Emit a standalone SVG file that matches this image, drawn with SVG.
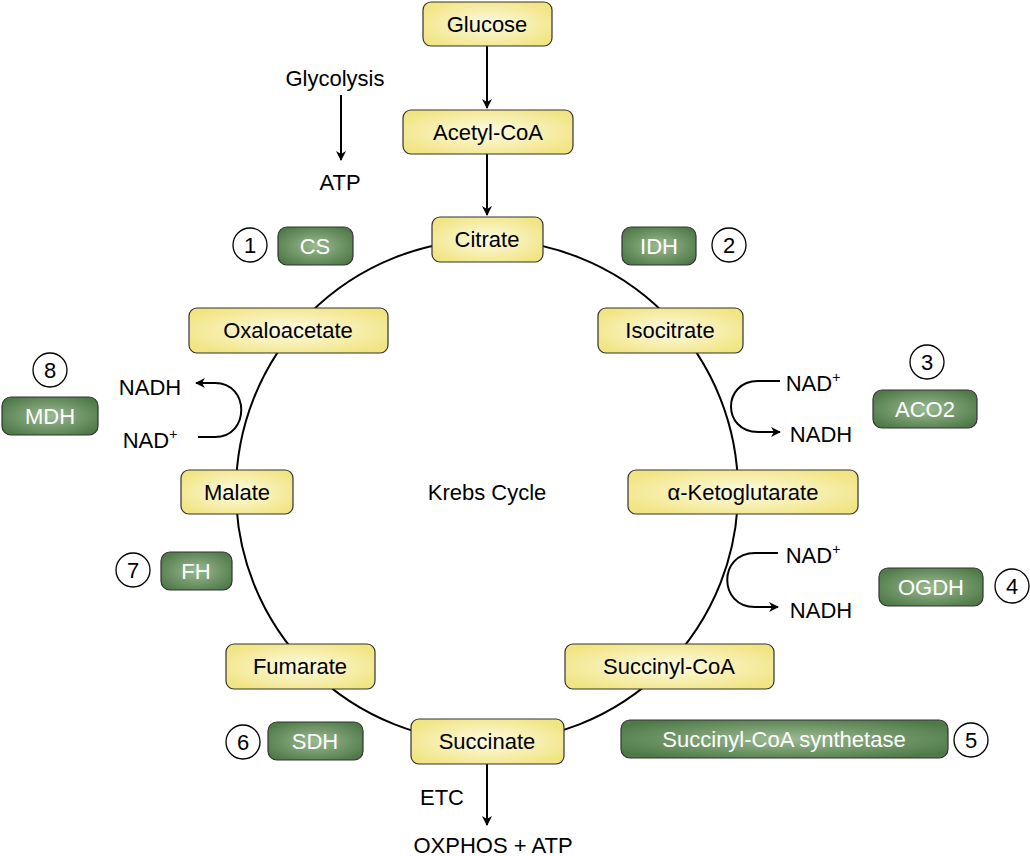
<svg xmlns="http://www.w3.org/2000/svg" width="1030" height="856" viewBox="0 0 1030 856">
<defs>
<radialGradient id="y" cx="0.5" cy="0.5" r="0.6"><stop offset="0" stop-color="#fdfbe4"/><stop offset="1" stop-color="#f1e482"/></radialGradient>
<radialGradient id="g" cx="0.5" cy="0.5" r="0.6"><stop offset="0" stop-color="#9cba92"/><stop offset="1" stop-color="#4f7a48"/></radialGradient>
<marker id="a" viewBox="0 0 10 10" refX="9" refY="5" markerWidth="10" markerHeight="10" markerUnits="userSpaceOnUse" orient="auto"><path d="M0,0 L10,5 L0,10 L3,5 Z" fill="#000"/></marker>
<style>
text{font-family:"Liberation Sans",Arial,sans-serif;font-size:22px;fill:#000;text-anchor:middle}
.y rect{fill:url(#y);stroke:#333;stroke-width:1.2}
.g rect{fill:url(#g);stroke:#333;stroke-width:1.2}
.g text{fill:#fff}
.n circle{fill:#fff;stroke:#000;stroke-width:1.3}
.l{fill:none;stroke:#000;stroke-width:2}
</style>
</defs>
<rect width="1030" height="856" fill="#fff"/>
<g id="connectors">
<circle cx="487" cy="491" r="251" class="l"/>
<line x1="487" y1="46" x2="487" y2="108" class="l" marker-end="url(#a)"/>
<line x1="487" y1="154" x2="487" y2="215" class="l" marker-end="url(#a)"/>
<line x1="341" y1="95" x2="341" y2="160" class="l" marker-end="url(#a)"/>
<line x1="487" y1="764" x2="487" y2="825" class="l" marker-end="url(#a)"/>
<path d="M198,437 H215 C250,437 250,383 215,383 H196" class="l" marker-end="url(#a)"/>
<path d="M780,381 H758 C722,381 722,432 758,432 H780" class="l" marker-end="url(#a)"/>
<path d="M778,553 H755 C718,553 718,607 755,607 H778" class="l" marker-end="url(#a)"/>
</g>
<text x="335" y="86">Glycolysis</text>
<text x="340" y="190">ATP</text>
<text x="442" y="805">ETC</text>
<text x="493" y="853">OXPHOS + ATP</text>
<text x="487" y="500">Krebs Cycle</text>
<text x="150" y="395">NADH</text>
<text x="150" y="448">NAD<tspan font-size="14" dy="-9">+</tspan></text>
<text x="813" y="391">NAD<tspan font-size="14" dy="-9">+</tspan></text>
<text x="821" y="442">NADH</text>
<text x="813" y="563">NAD<tspan font-size="14" dy="-9">+</tspan></text>
<text x="821" y="618">NADH</text>
<g id="glucose" class="y"><rect x="423" y="2" width="129" height="44" rx="8"/><text x="487" y="32">Glucose</text></g>
<g id="acetylcoa" class="y"><rect x="403" y="110" width="170" height="44" rx="8"/><text x="488" y="140">Acetyl-CoA</text></g>
<g id="citrate" class="y"><rect x="432" y="217" width="111" height="45" rx="8"/><text x="487" y="247">Citrate</text></g>
<g id="oxaloacetate" class="y"><rect x="189" y="308" width="199" height="45" rx="8"/><text x="288" y="338">Oxaloacetate</text></g>
<g id="isocitrate" class="y"><rect x="598" y="308" width="145" height="45" rx="8"/><text x="670" y="338">Isocitrate</text></g>
<g id="malate" class="y"><rect x="181" y="470" width="112" height="44" rx="8"/><text x="237" y="500">Malate</text></g>
<g id="akg" class="y"><rect x="628" y="470" width="230" height="44" rx="8"/><text x="743" y="500">α-Ketoglutarate</text></g>
<g id="fumarate" class="y"><rect x="226" y="644" width="149" height="45" rx="8"/><text x="300" y="674">Fumarate</text></g>
<g id="succinylcoa" class="y"><rect x="565" y="644" width="209" height="45" rx="8"/><text x="669" y="674">Succinyl-CoA</text></g>
<g id="succinate" class="y"><rect x="411" y="719" width="153" height="45" rx="8"/><text x="487" y="749">Succinate</text></g>
<g id="cs" class="g"><rect x="278" y="227" width="75" height="38" rx="9"/><text x="315" y="254">CS</text></g>
<g id="idh" class="g"><rect x="622" y="227" width="74" height="38" rx="9"/><text x="659" y="254">IDH</text></g>
<g id="mdh" class="g"><rect x="2" y="397" width="96" height="38" rx="9"/><text x="50" y="424">MDH</text></g>
<g id="aco2" class="g"><rect x="873" y="390" width="104" height="38" rx="9"/><text x="925" y="417">ACO2</text></g>
<g id="fh" class="g"><rect x="161" y="552" width="71" height="38" rx="9"/><text x="196" y="579">FH</text></g>
<g id="ogdh" class="g"><rect x="879" y="568" width="104" height="38" rx="9"/><text x="931" y="595">OGDH</text></g>
<g id="sdh" class="g"><rect x="268" y="722" width="95" height="38" rx="9"/><text x="315" y="749">SDH</text></g>
<g id="scs" class="g"><rect x="621" y="720" width="327" height="38" rx="9"/><text x="784" y="747">Succinyl-CoA synthetase</text></g>
<g id="n1" class="n"><circle cx="250" cy="245" r="17"/><text x="250" y="253">1</text></g>
<g id="n2" class="n"><circle cx="729" cy="245" r="17"/><text x="729" y="253">2</text></g>
<g id="n3" class="n"><circle cx="927" cy="362" r="17"/><text x="927" y="370">3</text></g>
<g id="n4" class="n"><circle cx="1012" cy="586" r="17"/><text x="1012" y="594">4</text></g>
<g id="n5" class="n"><circle cx="971" cy="740" r="17"/><text x="971" y="748">5</text></g>
<g id="n6" class="n"><circle cx="243" cy="742" r="17"/><text x="243" y="750">6</text></g>
<g id="n7" class="n"><circle cx="133" cy="570" r="17"/><text x="133" y="578">7</text></g>
<g id="n8" class="n"><circle cx="50" cy="370" r="17"/><text x="50" y="378">8</text></g>
</svg>
